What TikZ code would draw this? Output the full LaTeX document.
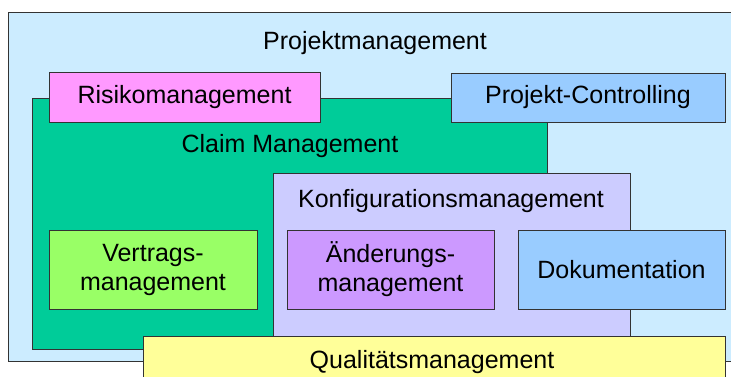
\documentclass[tikz,border=0pt]{standalone}
\usepackage{fontspec}
\setmainfont{Liberation Sans}
\definecolor{cOuter}{HTML}{CCECFF}
\definecolor{cPink}{HTML}{FF99FF}
\definecolor{cBlue}{HTML}{99CCFF}
\definecolor{cGreen}{HTML}{00CC99}
\definecolor{cLav}{HTML}{CCCCFF}
\definecolor{cLGreen}{HTML}{99FF66}
\definecolor{cPurple}{HTML}{CC99FF}
\definecolor{cYellow}{HTML}{FFFF99}
\definecolor{cLine}{HTML}{333333}
\begin{document}
\begin{tikzpicture}[x=1pt,y=-1pt,
  box/.style={draw=cLine, line width=1pt, rectangle, inner sep=0pt, outer sep=0pt},
  lbl/.style={font=\fontsize{25}{29}\selectfont, align=center, inner sep=0pt, text=black},
  boxtext/.style={box, font=\fontsize{25}{29}\selectfont, align=center, text=black}]
\useasboundingbox (0,0) rectangle (731,376);
\clip (0,0) rectangle (731,376);
% outer
\node[box, fill=cOuter, minimum width=740pt, minimum height=349pt, anchor=north west] (pm) at (8,12) {};
\node[lbl] (pmt) at (375,43) {Projektmanagement};
% claim
\node[box, fill=cGreen, minimum width=515pt, minimum height=251pt, anchor=north west] (cm) at (32,98) {};
\node[lbl] (cmt) at (290,146) {Claim Management};
% risiko
\node[boxtext, fill=cPink, minimum width=271pt, minimum height=50pt, anchor=north west] (rm) at (49,72) {Risikomanagement};
% controlling
\node[boxtext, fill=cBlue, minimum width=274pt, minimum height=49pt, anchor=north west] (pc) at (451,73) {Projekt-Controlling};
% konfiguration
\node[box, fill=cLav, minimum width=357pt, minimum height=180pt, anchor=north west] (km) at (273,173) {};
\node[lbl] (kmt) at (451,201) {Konfigurationsmanagement};
% inner boxes
\node[boxtext, fill=cLGreen, minimum width=208pt, minimum height=79pt, anchor=north west] (vm) at (49,230) {Vertrags-\\management};
\node[boxtext, fill=cPurple, minimum width=207pt, minimum height=79pt, anchor=north west] (am) at (287,230) {Änderungs-\\management};
\node[boxtext, fill=cBlue, minimum width=207pt, minimum height=79pt, anchor=north west] (dk) at (518,230) {Dokumentation};
% qualitaet
\node[box, fill=cYellow, minimum width=582pt, minimum height=60pt, anchor=north west] (qm) at (143,336) {};
\node[lbl] (qmt) at (432,362) {Qualitätsmanagement};
\end{tikzpicture}
\end{document}
